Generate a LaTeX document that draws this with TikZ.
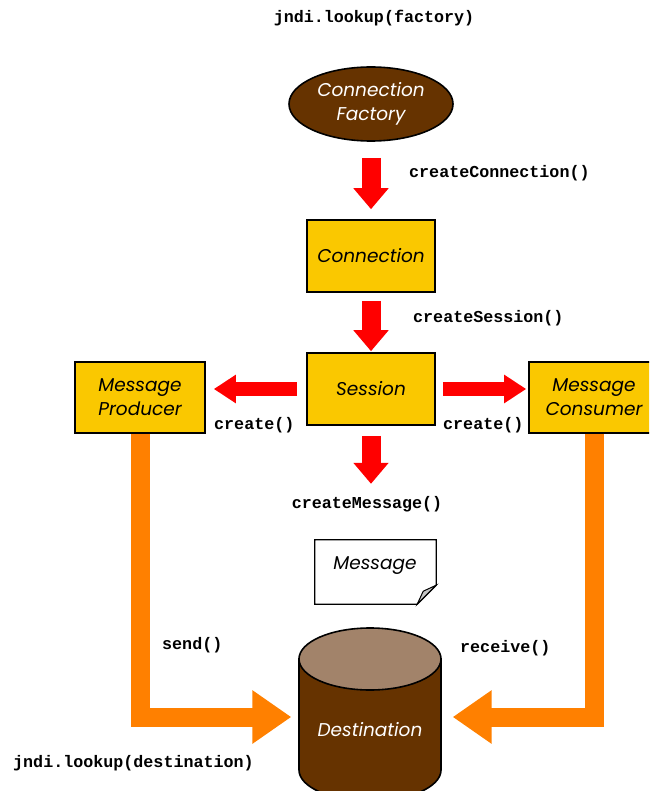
\documentclass[tikz,border=0pt]{standalone}
\usepackage{fontspec}
\setmainfont{Poppins}[ItalicFont={Poppins Italic}]
\setmonofont{Liberation Mono}
\usetikzlibrary{arrows.meta, shapes.geometric}
\definecolor{boxyellow}{RGB}{250,200,0}
\definecolor{darkbrown}{RGB}{102,51,0}
\definecolor{lightbrown}{RGB}{162,131,106}
\definecolor{arrorange}{RGB}{255,128,0}
\begin{document}
\begin{tikzpicture}[x=1pt, y=-1pt, font=\fontsize{18.5}{24}\selectfont\itshape,
  objbox/.style={draw, line width=1.6pt, fill=boxyellow, align=center, inner sep=0pt},
  call/.style={font=\fontsize{16.7}{18}\selectfont\ttfamily\bfseries, inner sep=0pt},
  redv/.style={red, line width=19pt, -{Triangle[length=21pt, width=34pt]}},
  redh/.style={red, line width=14pt, -{Triangle[length=22pt, width=27pt]}},
  flow/.style={arrorange, line width=19pt, line join=miter, -{Triangle[length=39pt, width=51pt]}}]

\useasboundingbox (0,0) rectangle (649,791);
\clip (0,0) rectangle (649,791);

\begin{scope}
\node (factory) [ellipse, draw, line width=1.6pt, fill=darkbrown, text=white, align=center,
  minimum width=164pt, minimum height=74pt, inner sep=0pt] at (371,104) {Connection\\Factory};
\node (conn) [objbox, minimum width=128pt, minimum height=72pt] at (371,256) {Connection};
\node (session) [objbox, minimum width=128pt, minimum height=72pt] at (371,389) {Session};
\node (prod) [objbox, minimum width=130pt, minimum height=71pt] at (140,397.5) {Message\\Producer};
\node (cons) [objbox, minimum width=130pt, minimum height=71pt] at (594,397.5) {Message\\Consumer};

\node (msg) [minimum width=121pt, minimum height=64pt, inner sep=0pt] at (375.5,572) {};
\draw[line width=1.3pt, fill=white] (msg.north west) -- (msg.north east) -- ([yshift=19pt]msg.south east)
  -- ([xshift=-19pt]msg.south east) -- (msg.south west) -- cycle;
\draw[line width=1pt, fill=gray!45] ([yshift=19pt]msg.south east) -- ([xshift=-19pt]msg.south east)
  -- ([xshift=-13pt, yshift=13pt]msg.south east) -- cycle;
\node (msgtext) at (375,566) {Message};

\draw[line width=1.6pt, fill=darkbrown] (299,659) -- (299,770) arc[start angle=180, end angle=0, x radius=71, y radius=31]
  -- (441,659) -- cycle;
\draw[line width=1.6pt, fill=lightbrown] (370,659) ellipse[x radius=71, y radius=31];
\node (dest) [minimum width=143pt, minimum height=20pt, inner sep=0pt] at (370,717) {};
\node (desttext) [text=white] at (370,730) {Destination};

\draw[redv, shorten <=16pt, shorten >=10pt] (factory.south) -- (conn.north);
\draw[redv, shorten <=8pt, shorten >=1pt] (conn.south) -- (session.north);
\draw[redv, shorten <=10pt, shorten >=56pt] (session.south) -- (session.south |- msg.north);
\draw[redh, shorten <=9pt, shorten >=8pt] (session.west) -- (prod.east |- session.west);
\draw[redh, shorten <=7pt, shorten >=2pt] (session.east) -- (cons.west |- session.east);

\draw[flow, shorten >=7pt] (prod.south) |- (dest.west);
\draw[flow, shorten >=11pt] (cons.south) |- (dest.east);

\node (lookupfactory) [call] at (374,18) {jndi.lookup(factory)};
\node (createconn) [call, anchor=west] at (409,173) {createConnection()};
\node (createsession) [call, anchor=west] at (413,318) {createSession()};
\node (createprod) [call, anchor=west] at (214,425) {create()};
\node (createcons) [call, anchor=west] at (443,425) {create()};
\node (createmsg) [call] at (367,504) {createMessage()};
\node (send) [call, anchor=west] at (162,645) {send()};
\node (receive) [call, anchor=west] at (460,648) {receive()};
\node (lookupdest) [call, anchor=west] at (13,763) {jndi.lookup(destination)};
\end{scope}

\end{tikzpicture}
\end{document}
